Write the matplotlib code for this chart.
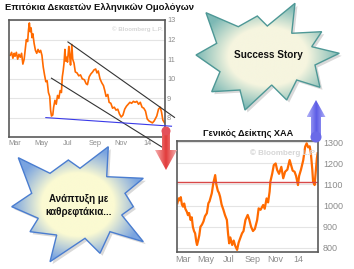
import numpy as np
import pandas as pd
import matplotlib
matplotlib.use('Agg')
import matplotlib.pyplot as plt
from matplotlib.patches import Polygon
from matplotlib.colors import LinearSegmentedColormap

plt.rcParams['font.family'] = ['Liberation Sans', 'DejaVu Sans']

# Greek 10y bond yield (%)
bond_dates = ['2013-02-18', '2013-02-21', '2013-02-24', '2013-02-27', '2013-03-01', '2013-03-04',
              '2013-03-07', '2013-03-10', '2013-03-13', '2013-03-16', '2013-03-19', '2013-03-22',
              '2013-03-25', '2013-03-27', '2013-03-30', '2013-04-01', '2013-04-03', '2013-04-05',
              '2013-04-07', '2013-04-09', '2013-04-11', '2013-04-14', '2013-04-17', '2013-04-20',
              '2013-04-23', '2013-04-26', '2013-04-29', '2013-05-02', '2013-05-05', '2013-05-08',
              '2013-05-11', '2013-05-14', '2013-05-17', '2013-05-20', '2013-05-22', '2013-05-24',
              '2013-05-27', '2013-05-29', '2013-06-01', '2013-06-04', '2013-06-07', '2013-06-10',
              '2013-06-13', '2013-06-16', '2013-06-18', '2013-06-20', '2013-06-22', '2013-06-24',
              '2013-06-26', '2013-06-28', '2013-06-30', '2013-07-03', '2013-07-05', '2013-07-07',
              '2013-07-10', '2013-07-12', '2013-07-15', '2013-07-18', '2013-07-22', '2013-07-26',
              '2013-07-30', '2013-08-03', '2013-08-08', '2013-08-12', '2013-08-15', '2013-08-19',
              '2013-08-23', '2013-08-27', '2013-08-30', '2013-09-03', '2013-09-06', '2013-09-09',
              '2013-09-13', '2013-09-17', '2013-09-21', '2013-09-24', '2013-09-27', '2013-10-01',
              '2013-10-04', '2013-10-08', '2013-10-12', '2013-10-16', '2013-10-20', '2013-10-24',
              '2013-10-28', '2013-11-01', '2013-11-05', '2013-11-09', '2013-11-13', '2013-11-17',
              '2013-11-21', '2013-11-25', '2013-11-29', '2013-12-03', '2013-12-07', '2013-12-11',
              '2013-12-15', '2013-12-19', '2013-12-23', '2013-12-27', '2013-12-31', '2014-01-04',
              '2014-01-08', '2014-01-12', '2014-01-16', '2014-01-22', '2014-01-26', '2014-01-30',
              '2014-02-02', '2014-02-05', '2014-02-09']
bond_yield = [11.2, 11.35, 11.05, 11.3, 11.15, 11.35,
              11.0, 11.25, 11.1, 11.3, 10.75, 11.0,
              11.6, 12.0, 11.9, 12.5, 12.85, 12.4,
              12.6, 12.1, 12.3, 11.8, 11.45, 11.3,
              11.5, 11.35, 11.45, 11.2, 10.6, 10.2,
              9.85, 9.9, 9.3, 9.1, 8.4, 8.1,
              8.15, 8.55, 8.9, 8.7, 9.15, 9.0,
              9.4, 9.3, 10.1, 10.4, 10.8, 11.5,
              10.9, 11.1, 10.85, 11.65, 11.2, 10.7,
              11.75, 11.0, 10.8, 10.35, 10.3, 10.15,
              10.2, 10.0, 9.95, 9.75, 9.7, 10.1,
              10.25, 10.35, 10.45, 10.5, 10.3, 10.4,
              10.0, 9.8, 9.65, 9.4, 9.1, 9.2,
              8.8, 8.75, 8.5, 8.55, 8.4, 8.45,
              8.2, 8.05, 8.15, 8.45, 8.6, 8.7,
              8.8, 8.75, 8.85, 8.8, 8.85, 8.7,
              8.8, 8.55, 8.5, 8.35, 7.95, 7.85,
              7.8, 7.75, 7.85, 8.1, 8.45, 8.55,
              8.3, 7.9, 7.75]

# trend lines drawn on the bond chart
chan_upper = (['2013-07-01', '2014-03-04'], [11.88, 8.03])
chan_lower = (['2013-05-24', '2014-02-10'], [10.03, 6.42])
support = (['2013-05-11', '2014-02-25'], [8.02, 7.58])

# ATHEX general index
athex_dates = ['2013-02-14', '2013-02-17', '2013-02-20', '2013-02-23', '2013-02-26', '2013-03-01',
               '2013-03-04', '2013-03-07', '2013-03-11', '2013-03-14', '2013-03-17', '2013-03-21',
               '2013-03-24', '2013-03-27', '2013-03-30', '2013-04-02', '2013-04-05', '2013-04-07',
               '2013-04-10', '2013-04-13', '2013-04-16', '2013-04-20', '2013-04-24', '2013-04-28',
               '2013-05-03', '2013-05-07', '2013-05-10', '2013-05-16', '2013-05-20', '2013-05-25',
               '2013-05-28', '2013-06-01', '2013-06-04', '2013-06-07', '2013-06-11', '2013-06-16',
               '2013-06-20', '2013-06-25', '2013-06-28', '2013-07-01', '2013-07-04', '2013-07-09',
               '2013-07-13', '2013-07-17', '2013-07-22', '2013-07-26', '2013-07-30', '2013-08-04',
               '2013-08-08', '2013-08-13', '2013-08-19', '2013-08-23', '2013-08-28', '2013-09-02',
               '2013-09-07', '2013-09-13', '2013-09-17', '2013-09-22', '2013-09-29', '2013-10-03',
               '2013-10-08', '2013-10-12', '2013-10-16', '2013-10-18', '2013-10-23', '2013-10-27',
               '2013-11-01', '2013-11-05', '2013-11-10', '2013-11-16', '2013-11-21', '2013-11-26',
               '2013-12-02', '2013-12-08', '2013-12-12', '2013-12-16', '2013-12-21', '2013-12-25',
               '2013-12-30', '2014-01-02', '2014-01-07', '2014-01-13', '2014-01-18', '2014-01-22',
               '2014-01-26', '2014-01-30', '2014-02-02', '2014-02-06', '2014-02-08', '2014-02-12',
               '2014-02-15', '2014-02-18', '2014-02-20']
athex_close = [1011, 1034, 1025, 1040, 1005, 995,
               1010, 985, 971, 955, 965, 932,
               945, 900, 880, 869, 830, 814,
               835, 860, 900, 910, 925, 950,
               964, 1011, 1020, 1058, 1105, 1144,
               1100, 1070, 1060, 1042, 1005, 979,
               955, 932, 869, 822, 850, 814,
               835, 810, 791, 825, 845, 869,
               880, 932, 956, 935, 900, 880,
               890, 932, 987, 980, 1003, 985,
               1034, 1015, 1066, 1113, 1152, 1191,
               1199, 1168, 1150, 1183, 1129, 1160,
               1170, 1215, 1190, 1165, 1160, 1140,
               1097, 1140, 1170, 1215, 1278, 1294,
               1275, 1280, 1250, 1168, 1113, 1097,
               1160, 1223, 1247]
athex_level = 1110

month_ticks = ['2013-03-01', '2013-05-01', '2013-07-01', '2013-09-01', '2013-11-01', '2014-01-01']
month_labels = ['Mar', 'May', 'Jul', 'Sep', 'Nov', '14']

W, H = 354, 269
fig = plt.figure(figsize=(W / 100, H / 100), dpi=100)


def box(l, t, r, b):
    return [l / W, 1 - b / H, (r - l) / W, (b - t) / H]


def style(ax, fs, ypad, xpad):
    for s in ax.spines.values():
        s.set_color('#5a5a5a')
        s.set_linewidth(1.2)
    ax.yaxis.tick_right()
    ax.tick_params(length=0, labelsize=fs, labelcolor='#8c8c8c')
    ax.tick_params(axis='y', pad=ypad)
    ax.tick_params(axis='x', pad=xpad)
    ax.grid(axis='y', color='#e4e4e4', lw=0.8)
    ax.set_axisbelow(True)
    ax.set_xticks(pd.to_datetime(month_ticks))
    ax.set_xticklabels(month_labels)


# bond yield chart
ax1 = fig.add_axes(box(9, 20, 165, 137))
ax1.plot(pd.to_datetime(bond_dates), bond_yield, color='#ff6a00', lw=1.2)
ax1.set_xlim(pd.Timestamp('2013-02-15'), pd.Timestamp('2014-02-10'))
ax1.set_ylim(7.03, 13.0)
ax1.set_yticks([8, 9, 10, 11, 12, 13])
style(ax1, 5.3, 1.5, 2.5)
for (d, v), c in [(chan_upper, '#333333'), (chan_lower, '#333333'), (support, '#3a3ae8')]:
    ax1.plot(pd.to_datetime(d), v, color=c, lw=0.8, clip_on=False, zorder=4)
ax1.text(0.985, 0.95, '\u00a9 Bloomberg L.P.', transform=ax1.transAxes, ha='right', va='top',
         fontsize=4.4, fontweight='bold', color='#d6d6d6')

# ATHEX chart
ax2 = fig.add_axes(box(177, 141, 318, 252))
ax2.plot(pd.to_datetime(athex_dates), athex_close, color='#ff6a00', lw=1.6)
ax2.axhline(athex_level, color='#d84848', lw=1.0)
ax2.set_xlim(pd.Timestamp('2013-02-13'), pd.Timestamp('2014-02-21'))
ax2.set_ylim(781, 1305)
ax2.set_yticks([800, 900, 1000, 1100, 1200, 1300])
style(ax2, 6.5, 3.6, 1.8)
ax2.text(0.99, 0.93, '\u00a9 Bloomberg L.P.', transform=ax2.transAxes, ha='right', va='top',
         fontsize=5.8, fontweight='bold', color='#d6d6d6')

# overlay in pixel coordinates for titles, bursts and arrows
ov = fig.add_axes([0, 0, 1, 1])
ov.patch.set_visible(False)
ov.axis('off')


def burst(pts, inner, outer, edge):
    pts = np.array(pts, float)
    ov.add_patch(Polygon(pts + [2.5, 2.5], closed=True, fc='#000000', alpha=0.15, ec='none', zorder=1))
    poly = Polygon(pts, closed=True, fc='none', ec=edge, lw=1.0, zorder=3)
    ov.add_patch(poly)
    x0, y0 = pts.min(0)
    x1, y1 = pts.max(0)
    cx, cy = (x0 + x1) / 2, (y0 + y1) / 2
    yy, xx = np.mgrid[y0:y1:200j, x0:x1:200j]
    r = np.hypot((xx - cx) / ((x1 - x0) / 2), (yy - cy) / ((y1 - y0) / 2))
    cm = LinearSegmentedColormap.from_list('g', [(0, inner), (0.55, inner), (1, outer)])
    im = ov.imshow(r, cmap=cm, vmin=0, vmax=1.0, extent=(x0, x1, y1, y0), origin='upper',
                   aspect='auto', interpolation='bilinear', zorder=2)
    im.set_clip_path(poly)


def arrow(pts, cx, half, inner, outer):
    pts = np.array(pts, float)
    poly = Polygon(pts, closed=True, fc='none', ec='none', zorder=5)
    ov.add_patch(poly)
    x0, y0 = pts.min(0)
    x1, y1 = pts.max(0)
    yy, xx = np.mgrid[y0:y1:100j, x0:x1:100j]
    r = np.clip(np.abs(xx - cx) / half, 0, 1)
    cm = LinearSegmentedColormap.from_list('a', [inner, outer])
    im = ov.imshow(r, cmap=cm, vmin=0, vmax=1, extent=(x0, x1, y1, y0), origin='upper',
                   aspect='auto', interpolation='bilinear', zorder=5)
    im.set_clip_path(poly)


burst([(206, 12.7), (238.3, 26.7), (257.3, 16), (267.3, 26), (295, 3.3), (291.7, 33.3),
       (321.7, 31.7), (311.7, 46.7), (339.3, 53.3), (315, 65), (320, 87.3), (296.7, 80),
       (286.7, 100), (271.7, 85), (245, 110), (240, 90), (211.7, 91.7), (220, 71.7),
       (196, 55), (216.7, 43.3)],
      '#f6f5df', '#7db9b5', '#4e9896')
burst([(18.3, 157.7), (50, 173.3), (68.3, 160), (80, 168.3), (108.3, 146.7), (106.7, 176.7),
       (143.3, 178.3), (125, 193.3), (133.3, 206.7), (121.7, 215), (143.3, 241.7), (110, 231.7),
       (100, 253.3), (85, 238.3), (50, 261.7), (56.7, 235), (30, 231.7), (38.3, 218.3),
       (11.7, 206.7), (31.7, 193.3)],
      '#fbfad2', '#7aa4e0', '#4a7dd0')

# red arrow down, blue arrow up
arrow([(162, 130), (170, 130), (170, 150), (177, 150), (166, 170), (155, 150), (162, 150)],
      166, 11, '#e23c3c', '#f6b0b0')
ov.add_patch(plt.Circle((166, 131), 3.8, color='#e4505a', zorder=5))
arrow([(311, 138), (321, 138), (321, 117), (325.5, 117), (316, 100), (306.5, 117), (311, 117)],
      316, 9.5, '#5c5ce6', '#b4b4f8')
ov.add_patch(plt.Circle((316, 137), 4.8, color='#6a6ae8', zorder=5))

ov.text(5, 8, 'Επιτόκια Δεκαετών Ελληνικών Ομολόγων', ha='left', va='center',
        fontsize=6.8, fontweight='bold', color='#111111')
ov.text(248, 133, 'Γενικός Δείκτης ΧΑΑ', ha='center', va='center',
        fontsize=6.6, fontweight='bold', color='#111111')
ov.text(268, 55, 'Success Story', ha='center', va='center', fontsize=7.2,
        fontweight='bold', color='#111111', zorder=6)
ov.text(79, 205, 'Ανάπτυξη με\nκαθρεφτάκια...', ha='center', va='center', fontsize=7,
        fontweight='bold', color='#111111', linespacing=1.35, zorder=6)

ov.set_xlim(0, W)
ov.set_ylim(H, 0)

fig.savefig('out.png', dpi=100, facecolor='white')
